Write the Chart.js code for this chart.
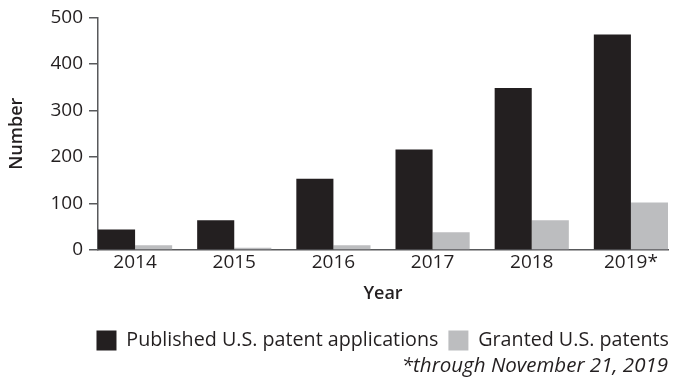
<!DOCTYPE html>
<html>
<head>
<meta charset="utf-8">
<script src="https://cdn.jsdelivr.net/npm/chart.js@4"></script>
<style>
html, body { margin: 0; padding: 0; background: #fff; }
#wrap { width: 680px; height: 386px; }
</style>
</head>
<body>
<div id="wrap"><canvas id="grafico"></canvas></div>
<script>
const anos = [2014, 2015, 2016, 2017, 2018, 2019];
const rotulosAnos = ['2014', '2015', '2016', '2017', '2018', '2019*'];
const publicados = [44, 64, 153, 216, 348, 463];
const concedidos = [10, 5, 10, 38, 64, 102];
const nomesSeries = ['Published U.S. patent applications', 'Granted U.S. patents'];
const nota = '*through November 21, 2019';

const preto = '#231f20';
const cinza = '#bcbdbf';
const eixo = '#58595b';
const fonte = '"Open Sans", sans-serif';

Chart.defaults.font.family = fonte;
Chart.defaults.color = preto;

// empurra a legenda ate a borda direita, como no original
const ajusteLegenda = {
    id: 'ajusteLegenda',
    afterLayout(chart) {
        chart.legend.left += 11;
        chart.legend.right += 11;
    }
};

const ctx = document.getElementById('grafico').getContext('2d');
const grafico = new Chart(ctx, {
    type: 'bar',
    data: {
        datasets: [
            {
                label: nomesSeries[0],
                data: anos.map((a, i) => ({ x: a, y: publicados[i] })),
                backgroundColor: preto,
                borderWidth: 0
            },
            {
                label: nomesSeries[1],
                data: anos.map((a, i) => ({ x: a, y: concedidos[i] })),
                backgroundColor: cinza,
                borderWidth: 0
            }
        ]
    },
    options: {
        responsive: true,
        maintainAspectRatio: false,
        animation: false,
        layout: { padding: { top: 11, right: 12, bottom: 8, left: 0 } },
        datasets: {
            bar: { categoryPercentage: 0.748, barPercentage: 1 }
        },
        scales: {
            x: {
                type: 'linear',
                offset: false,
                min: 2013.626,
                max: 2019.374,
                grid: { display: false, drawTicks: false },
                border: { display: true, color: eixo, width: 1.5 },
                ticks: {
                    stepSize: 1,
                    includeBounds: false,
                    autoSkip: false,
                    maxRotation: 0,
                    padding: 1,
                    font: { size: 19 },
                    callback: v => {
                        const i = anos.indexOf(v);
                        return i >= 0 ? rotulosAnos[i] : '';
                    }
                },
                title: {
                    display: true,
                    text: 'Year',
                    font: { size: 18, weight: '600' },
                    padding: { top: 8, bottom: 16 }
                }
            },
            y: {
                min: 0,
                max: 500,
                grid: {
                    drawOnChartArea: false,
                    tickLength: 9,
                    color: eixo,
                    lineWidth: 1.5
                },
                border: { display: true, color: eixo, width: 1.5 },
                ticks: {
                    stepSize: 100,
                    padding: 6,
                    font: { size: 19 }
                },
                title: {
                    display: true,
                    text: 'Number',
                    font: { size: 18, weight: '600' },
                    padding: { top: 6, bottom: 2 }
                },
                afterFit: s => { s.width = 98; }
            }
        },
        plugins: {
            legend: {
                position: 'bottom',
                align: 'end',
                labels: {
                    boxWidth: 20,
                    boxHeight: 20,
                    padding: 10,
                    font: { size: 19.7 },
                    color: preto
                }
            },
            subtitle: {
                display: true,
                text: nota,
                position: 'bottom',
                align: 'end',
                font: { size: 20.5, style: 'italic' },
                color: preto,
                padding: { top: -7, bottom: 0 }
            },
            tooltip: { enabled: false }
        }
    },
    plugins: [ajusteLegenda]
});
</script>
</body>
</html>
